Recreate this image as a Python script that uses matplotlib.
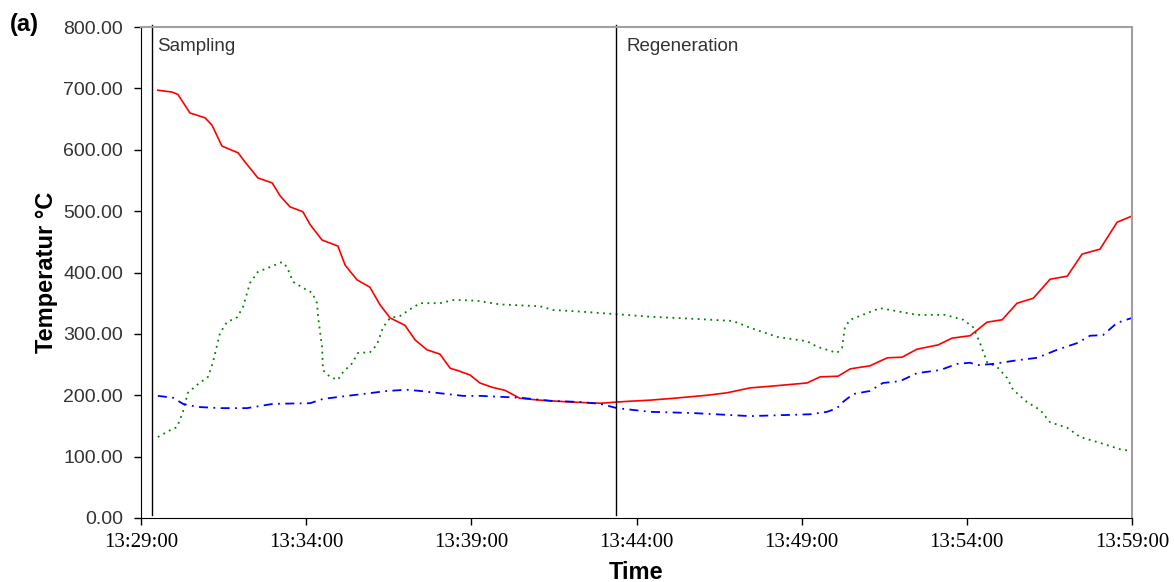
import numpy as np
import matplotlib
matplotlib.use("Agg")
import matplotlib.pyplot as plt
import matplotlib.dates as mdates
from datetime import datetime, timedelta

# minutes after 13:29:00, values in degC
red_t = [0.51, 0.94, 1.12, 1.48, 1.94, 2.15, 2.45, 2.94, 3.15, 3.54, 3.97, 4.21, 4.51, 4.90,
         5.12, 5.48, 5.96, 6.18, 6.54, 6.93, 7.24, 7.54, 7.99, 8.30, 8.66, 9.05, 9.36, 9.60,
         9.96, 10.26, 10.63, 11.02, 11.47, 12.08, 12.99, 13.90, 14.71, 15.41, 16.11, 17.14,
         17.74, 18.44, 19.13, 20.16, 20.56, 21.10, 21.47, 22.07, 22.59, 23.04, 23.49, 24.13,
         24.55, 25.10, 25.61, 26.07, 26.52, 27.01, 27.52, 28.04, 28.49, 29.03, 29.55, 30.00]
red_v = [697, 694, 690, 660, 652, 640, 606, 595, 580, 554, 546, 525, 507, 499,
         478, 453, 443, 412, 388, 376, 347, 326, 314, 290, 274, 267, 244, 240,
         233, 220, 213, 208, 195, 192, 189, 187, 190, 192, 195, 200,
         204, 212, 215, 220, 230, 231, 243, 248, 261, 262, 275, 282,
         293, 297, 319, 323, 350, 358, 389, 394, 430, 438, 482, 492]

blue_t = [0.51, 0.97, 1.27, 1.70, 2.39, 3.21, 4.00, 5.12, 5.51, 6.24, 6.72, 7.45, 8.05, 8.45,
          9.26, 9.75, 10.26, 11.47, 12.38, 13.29, 13.90, 14.41, 15.41, 16.71, 18.44, 20.25,
          20.77, 21.07, 21.25, 21.56, 22.07, 22.46, 22.98, 23.49, 24.19, 24.70, 25.10, 25.31,
          25.79, 26.52, 27.13, 27.73, 28.34, 28.73, 29.12, 29.55, 30.00]
blue_v = [199, 196, 186, 181, 179, 179, 186, 187, 194, 199, 202, 207, 209, 207,
          202, 199, 199, 196, 191, 189, 186, 179, 173, 171, 166, 169,
          173, 179, 189, 202, 207, 220, 223, 236, 241, 251, 253, 249,
          251, 257, 261, 274, 285, 297, 298, 318, 326]

green_t = [0.51, 0.88, 1.09, 1.27, 1.42, 1.70, 2.03, 2.18, 2.39, 2.60, 2.91, 3.09, 3.30, 3.54,
           3.91, 4.27, 4.42, 4.60, 4.90, 5.18, 5.33, 5.36, 5.48, 5.51, 5.72, 5.96, 6.12, 6.39,
           6.57, 6.93, 7.14, 7.33, 7.54, 7.84, 8.20, 8.45, 9.05, 9.45, 9.75, 10.17, 10.87,
           12.08, 12.47, 13.38, 14.41, 15.41, 16.92, 17.92, 18.44, 19.26, 20.16, 20.47, 21.07,
           21.22, 21.31, 21.47, 22.37, 23.49, 24.34, 24.89, 25.19, 25.40, 25.61, 25.92, 26.22,
           26.40, 26.82, 27.22, 27.52, 28.04, 28.43, 29.12, 29.64, 30.00]
green_v = [132, 143, 148, 173, 204, 217, 230, 254, 301, 319, 327, 344, 383, 401,
           409, 417, 409, 385, 375, 367, 350, 328, 279, 241, 230, 225, 238, 252,
           269, 270, 282, 311, 326, 329, 342, 350, 350, 355, 355, 354, 348,
           345, 339, 336, 332, 328, 324, 321, 310, 295, 288, 279, 269,
           277, 311, 323, 342, 331, 331, 323, 311, 285, 254, 246, 228,
           209, 189, 176, 156, 147, 132, 121, 112, 109]

phase_t = [0.33, 14.38]
phase_label_t = [0.5, 14.7]
phase_names = ["Sampling", "Regeneration"]

start = datetime(2000, 1, 1, 13, 29, 0)
def to_time(mins):
    return [start + timedelta(minutes=m) for m in mins]

fig = plt.figure(figsize=(11.74, 5.82), dpi=100)
ax = fig.add_axes([141/1174, 1-518/582, (1132-141)/1174, (518-27)/582])

ax.plot(to_time(red_t), red_v, color="#ff0000", lw=1.2)
ax.plot(to_time(green_t), green_v, color="#008000", lw=1.3, ls=(0, (1, 2.5)))
ax.plot(to_time(blue_t), blue_v, color="#0000ff", lw=1.3, ls=(0, (5, 3, 1, 3)))

for t, lt, name in zip(phase_t, phase_label_t, phase_names):
    ax.axvline(start + timedelta(minutes=t), ymin=0.006, ymax=1.004,
               color="black", lw=1, clip_on=False)
    ax.text(start + timedelta(minutes=lt), 768, name, fontsize=13.5,
            family="Liberation Sans", color="#333333", va="center", ha="left")

ax.set_xlim(start, start + timedelta(minutes=30))
ax.set_ylim(0, 800)
ax.set_yticks(np.arange(0, 801, 100))
ax.set_yticklabels([f"{v:.2f}" for v in np.arange(0, 801, 100)],
                   family="Liberation Sans", fontsize=14, color="#333333")
ax.set_xticks([start + timedelta(minutes=m) for m in range(0, 31, 5)])
ax.xaxis.set_major_formatter(mdates.DateFormatter("%H:%M:%S"))
for lab in ax.get_xticklabels():
    lab.set_family("Liberation Serif")
    lab.set_fontsize(15)

ax.tick_params(axis="both", direction="out", length=5, width=1, color="black")
ax.tick_params(axis="y", pad=8)
ax.tick_params(axis="x", pad=6)

ax.spines["top"].set_color("#a0a0a0")
ax.spines["right"].set_color("#a0a0a0")
ax.spines["top"].set_linewidth(1.5)
ax.spines["right"].set_linewidth(1.5)

ax.set_xlabel("Time", family="Liberation Sans", fontsize=17, fontweight="bold", labelpad=6)
ax.set_ylabel("Temperatur °C", family="Liberation Sans", fontsize=17, fontweight="bold", labelpad=4)
fig.text(10/1174, 1-25/582, "(a)", family="Liberation Sans", fontsize=17,
         fontweight="bold", va="center", ha="left")

fig.savefig("out.png", dpi=100)
